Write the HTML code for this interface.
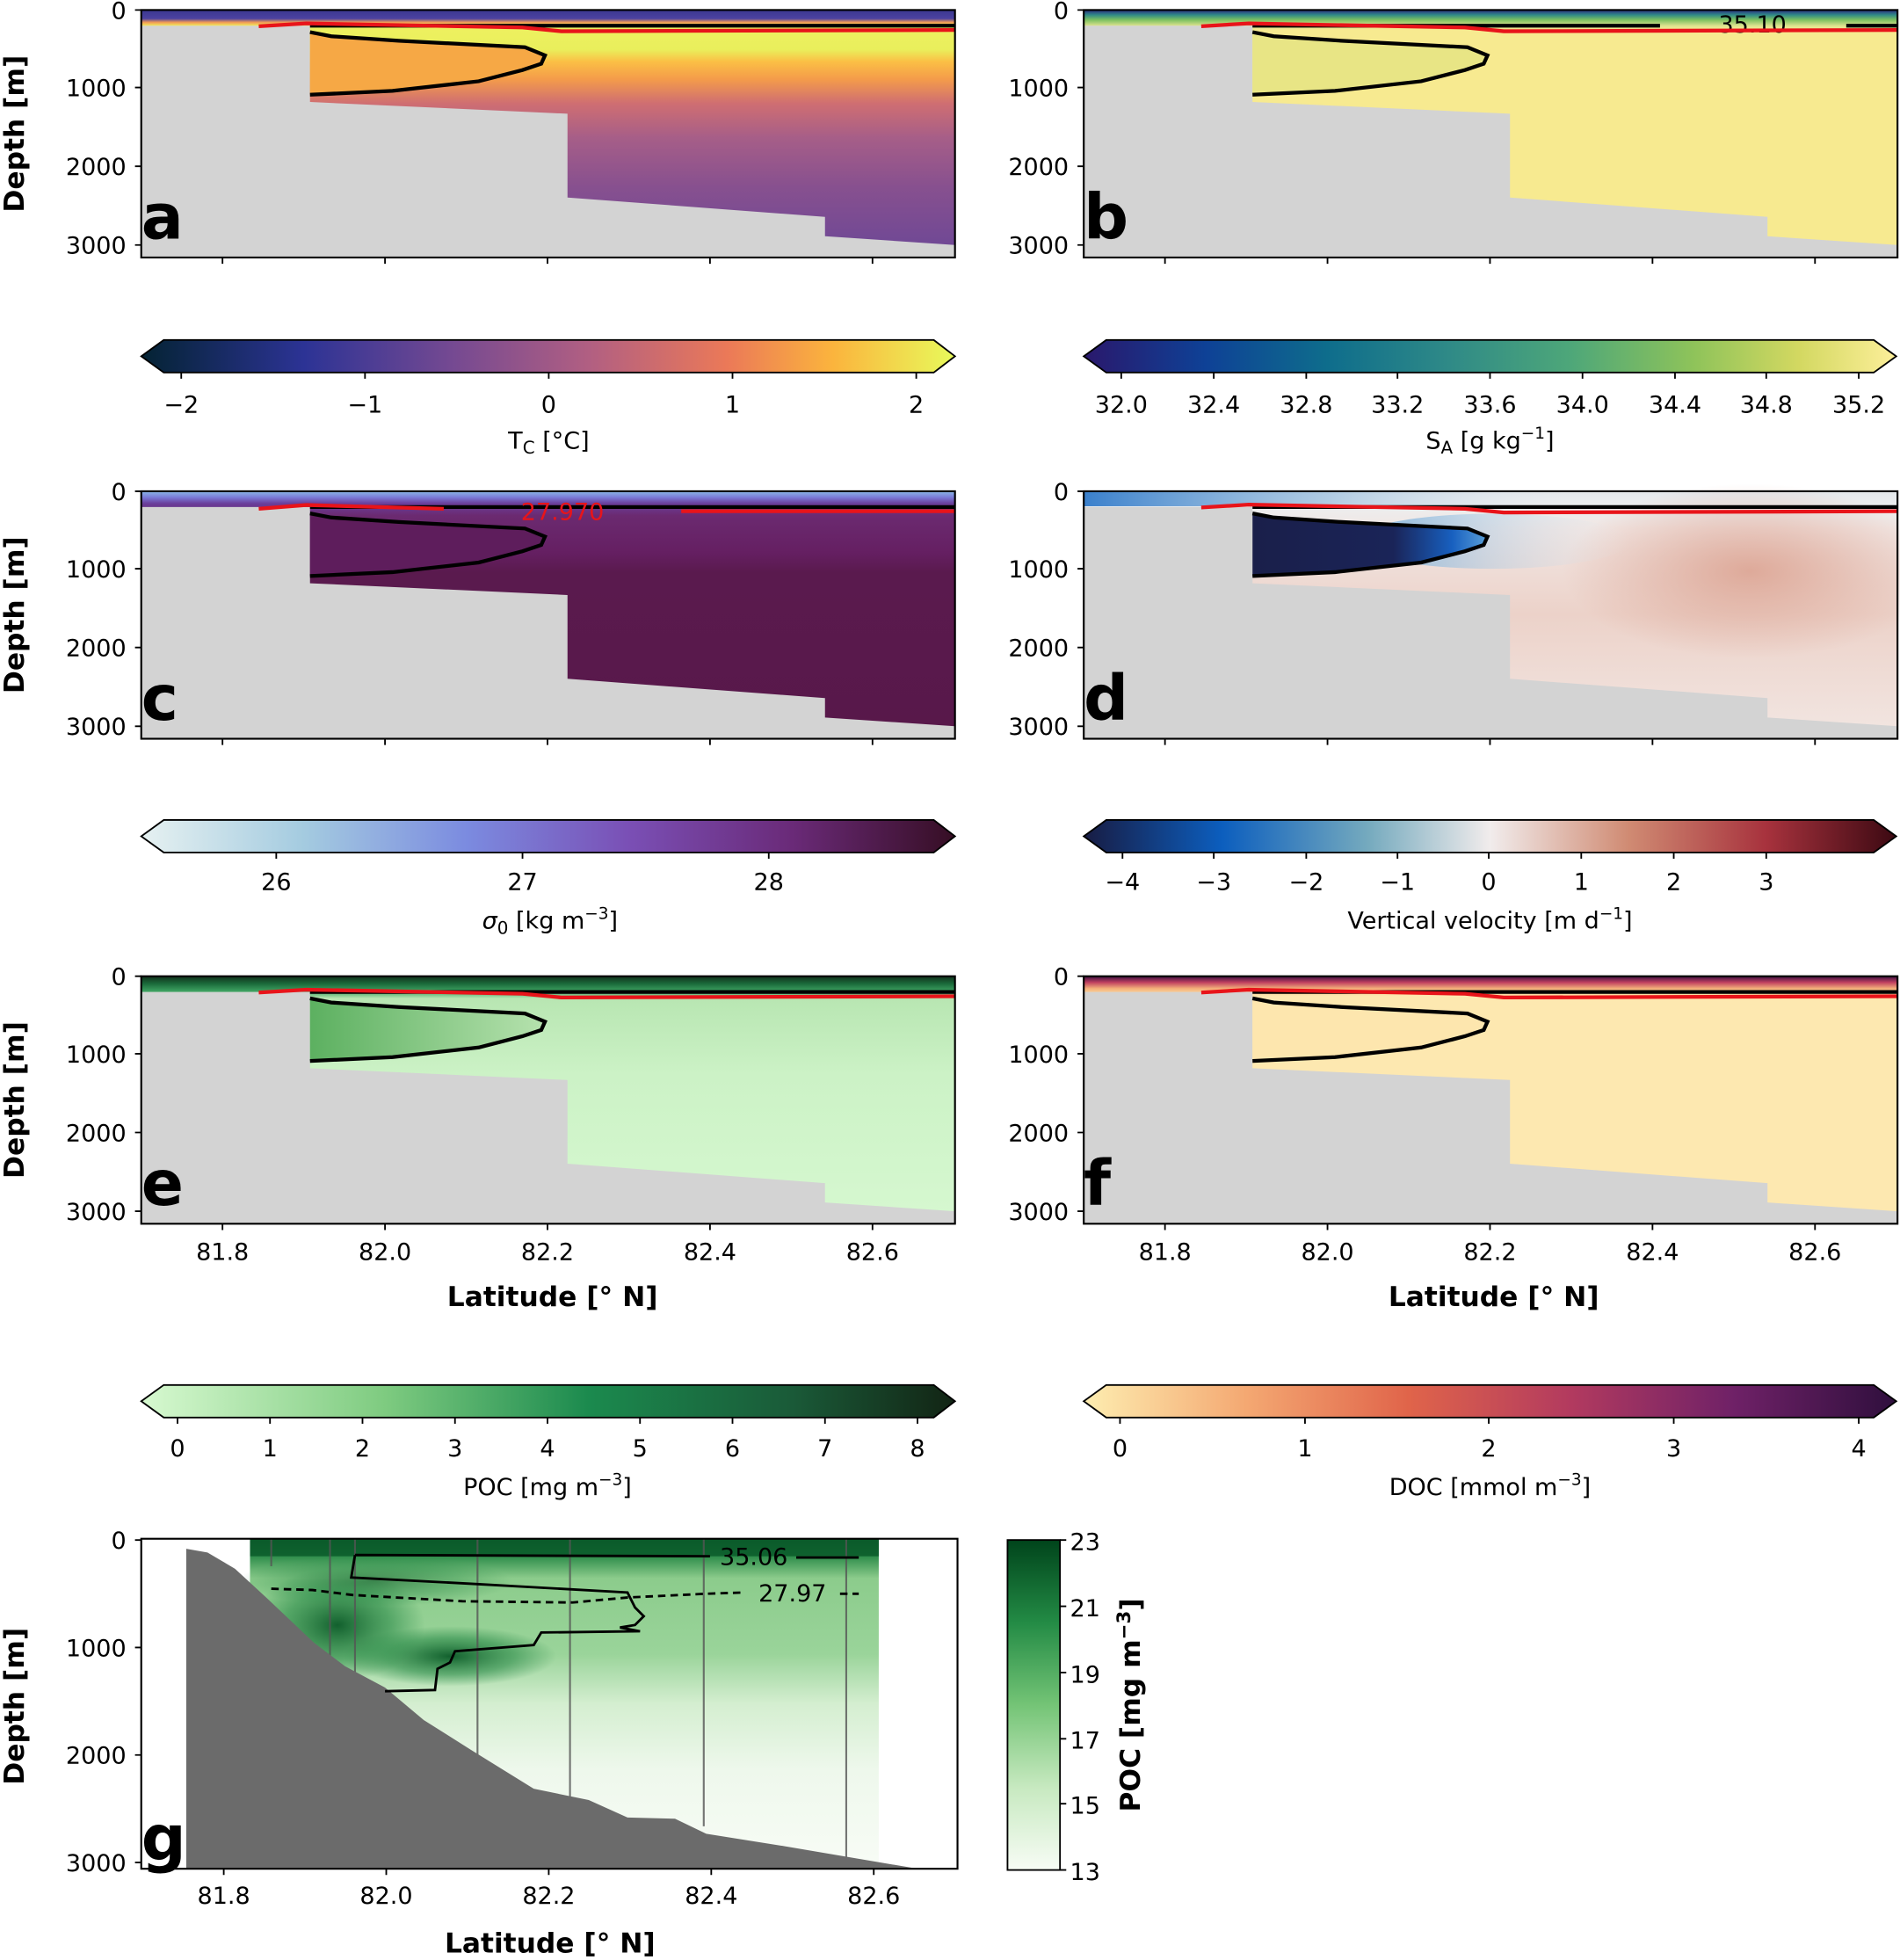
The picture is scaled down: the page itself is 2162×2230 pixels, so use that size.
<!DOCTYPE html>
<html><head><meta charset="utf-8"><style>
html,body{margin:0;padding:0;background:#fff;}
svg{display:block}
text{font-family:"DejaVu Sans","Liberation Sans",sans-serif;fill:#000}
.t{font-size:19px}
.b{font-weight:bold;font-size:22px}
.L{font-weight:bold;font-size:50px}
</style></head><body>
<svg width="2162" height="2230" viewBox="0 0 1520 1568" preserveAspectRatio="none" xmlns="http://www.w3.org/2000/svg">
<defs>
<linearGradient id="ga" gradientUnits="userSpaceOnUse" x1="0" y1="8" x2="0" y2="205">
<stop offset="0" stop-color="#3a3890"/><stop offset=".035" stop-color="#4c42a0"/><stop offset=".05" stop-color="#f29a55"/><stop offset=".065" stop-color="#eef060"/><stop offset=".16" stop-color="#e9ef5c"/><stop offset=".21" stop-color="#fbbf45"/><stop offset=".28" stop-color="#f49c4a"/><stop offset=".38" stop-color="#cf6e72"/><stop offset=".52" stop-color="#a65e88"/><stop offset=".72" stop-color="#87508f"/><stop offset="1" stop-color="#6c4796"/></linearGradient>
<linearGradient id="gb" gradientUnits="userSpaceOnUse" x1="0" y1="8" x2="0" y2="205">
<stop offset="0" stop-color="#2a2a80"/><stop offset=".02" stop-color="#2f8a87"/><stop offset=".04" stop-color="#7cc060"/><stop offset=".065" stop-color="#e0e490"/><stop offset=".08" stop-color="#f7ea90"/><stop offset="1" stop-color="#f7ea90"/></linearGradient>
<linearGradient id="gc" gradientUnits="userSpaceOnUse" x1="0" y1="8" x2="0" y2="205">
<stop offset="0" stop-color="#8ab8e6"/><stop offset=".025" stop-color="#7a7ad8"/><stop offset=".05" stop-color="#6a3e9a"/><stop offset=".1" stop-color="#6b2a70"/><stop offset=".25" stop-color="#651f62"/><stop offset=".33" stop-color="#5a1a4e"/><stop offset="1" stop-color="#58184a"/></linearGradient>
<linearGradient id="gd" gradientUnits="userSpaceOnUse" x1="0" y1="8" x2="0" y2="205">
<stop offset="0" stop-color="#e4e8ec"/><stop offset=".06" stop-color="#eceeef"/><stop offset=".15" stop-color="#f1e6e3"/><stop offset=".5" stop-color="#ecd2c9"/><stop offset="1" stop-color="#f2e6e2"/></linearGradient>
<linearGradient id="gdtop" x1="0" x2="1"><stop offset="0" stop-color="#3a80cc"/><stop offset=".3" stop-color="#8ab6dc" stop-opacity=".6"/><stop offset=".6" stop-color="#e8ecef" stop-opacity="0"/></linearGradient>
<radialGradient id="gd2"><stop offset="0" stop-color="#dca493" stop-opacity=".9"/><stop offset="1" stop-color="#dca493" stop-opacity="0"/></radialGradient>
<linearGradient id="gdt" x1="0" y1="0" x2="1" y2="0"><stop offset="0" stop-color="#1a1f4a"/><stop offset=".6" stop-color="#1a2458"/><stop offset=".85" stop-color="#1860c0"/><stop offset="1" stop-color="#5aa0d8"/></linearGradient>
<linearGradient id="gdhalo" x1="0" x2="1"><stop offset="0" stop-color="#5aa0d8" stop-opacity=".8"/><stop offset="1" stop-color="#e8eef2" stop-opacity="0"/></linearGradient>
<linearGradient id="ge" gradientUnits="userSpaceOnUse" x1="0" y1="8" x2="0" y2="205">
<stop offset="0" stop-color="#12301c"/><stop offset=".03" stop-color="#1a6a3a"/><stop offset=".06" stop-color="#3da060"/><stop offset=".09" stop-color="#b8e6b2"/><stop offset=".4" stop-color="#ccf2c6"/><stop offset="1" stop-color="#d6f8d0"/></linearGradient>
<linearGradient id="get" x1="0" y1="0" x2="1" y2="0"><stop offset="0" stop-color="#5cb060"/><stop offset="1" stop-color="#b6e2ae"/></linearGradient>
<linearGradient id="gf" gradientUnits="userSpaceOnUse" x1="0" y1="8" x2="0" y2="205">
<stop offset="0" stop-color="#3a1040"/><stop offset=".025" stop-color="#c04060"/><stop offset=".05" stop-color="#f4b07a"/><stop offset=".08" stop-color="#fde8b0"/><stop offset="1" stop-color="#fde8b0"/></linearGradient>
<linearGradient id="ca" x1="0" x2="1"><stop offset="0" stop-color="#042333"/><stop offset=".2" stop-color="#2c3395"/><stop offset=".38" stop-color="#744992"/><stop offset=".55" stop-color="#b15f82"/><stop offset=".72" stop-color="#eb7958"/><stop offset=".85" stop-color="#fbb43d"/><stop offset="1" stop-color="#e8fa5b"/></linearGradient>
<linearGradient id="cb" x1="0" x2="1"><stop offset="0" stop-color="#2a186c"/><stop offset=".15" stop-color="#0e4196"/><stop offset=".3" stop-color="#0e6d8c"/><stop offset=".45" stop-color="#2f8a87"/><stop offset=".6" stop-color="#4ea779"/><stop offset=".75" stop-color="#8ec35a"/><stop offset=".88" stop-color="#d3d861"/><stop offset="1" stop-color="#fdef9a"/></linearGradient>
<linearGradient id="cc" x1="0" x2="1"><stop offset="0" stop-color="#e6f1f1"/><stop offset=".2" stop-color="#a4cbe0"/><stop offset=".4" stop-color="#7b8be0"/><stop offset=".6" stop-color="#7a4fb5"/><stop offset=".8" stop-color="#6a2a78"/><stop offset="1" stop-color="#360e24"/></linearGradient>
<linearGradient id="cd" x1="0" x2="1"><stop offset="0" stop-color="#181c43"/><stop offset=".17" stop-color="#0c5ebe"/><stop offset=".35" stop-color="#75aabe"/><stop offset=".5" stop-color="#f1ecec"/><stop offset=".67" stop-color="#d08b73"/><stop offset=".84" stop-color="#a7323d"/><stop offset="1" stop-color="#3c0912"/></linearGradient>
<linearGradient id="ce" x1="0" x2="1"><stop offset="0" stop-color="#d7f9d0"/><stop offset=".3" stop-color="#7ecb80"/><stop offset=".55" stop-color="#1b8a4e"/><stop offset=".8" stop-color="#1a5a38"/><stop offset="1" stop-color="#122414"/></linearGradient>
<linearGradient id="cf" x1="0" x2="1"><stop offset="0" stop-color="#fdedb0"/><stop offset=".2" stop-color="#f4a872"/><stop offset=".4" stop-color="#e0644a"/><stop offset=".6" stop-color="#b23a5f"/><stop offset=".8" stop-color="#6f2167"/><stop offset="1" stop-color="#2f0f3d"/></linearGradient>
<linearGradient id="cg" x1="0" y1="0" x2="0" y2="1"><stop offset="0" stop-color="#00441b"/><stop offset=".25" stop-color="#238b45"/><stop offset=".5" stop-color="#74c476"/><stop offset=".75" stop-color="#c7e9c0"/><stop offset="1" stop-color="#f7fcf5"/></linearGradient>
<linearGradient id="gg" x1="0" y1="0" x2="0" y2="1"><stop offset="0" stop-color="#0a5a2a"/><stop offset=".05" stop-color="#2a8a48"/><stop offset=".12" stop-color="#8ccc8c"/><stop offset=".35" stop-color="#9ad49a"/><stop offset=".5" stop-color="#d4eed0"/><stop offset=".7" stop-color="#eef8ec"/><stop offset="1" stop-color="#f8fcf6"/></linearGradient>
<radialGradient id="gblob" cx=".5" cy=".5" r=".5"><stop offset="0" stop-color="#0b5a28" stop-opacity=".95"/><stop offset=".6" stop-color="#2a8a48" stop-opacity=".6"/><stop offset="1" stop-color="#2a8a48" stop-opacity="0"/></radialGradient>

<path id="body" d="M113,8 L764,8 L764,196 L660,189 L660,173.5 L454,158 L454,91 L248,81.6 L248,20.6 L113,20.6 Z"/>
<path id="tongue" d="M248,25.7 L265,29 L319,32.6 L420,37.8 L436,44.3 L433,51 L418,56 L383,65 L314,72.7 L248,75.8 Z"/>
<path id="tline" d="M248,25.7 L265,29 L319,32.6 L420,37.8 L436,44.3 L433,51 L418,56 L383,65 L314,72.7 L248,75.8" fill="none" stroke="#000" stroke-width="3"/>
<path id="red" d="M207,21 L245,18.7 L418,22 L449,25 L764,24" fill="none" stroke="#e8141a" stroke-width="3"/>
<g id="frame">
<rect x="113" y="8" width="651" height="198" fill="none" stroke="#000" stroke-width="1.5"/>
<path d="M113,8h-5M113,70h-5M113,133h-5M113,196h-5M178,206v5M308,206v5M438,206v5M568,206v5M698,206v5" stroke="#000" stroke-width="1.3"/>
</g>
</defs>

<!-- Panel a -->
<g>
<rect x="113" y="8" width="651" height="198" fill="#d3d3d3"/>
<use href="#body" fill="url(#ga)"/>
<use href="#tongue" fill="#f6a845"/>
<path d="M248,20.6 L764,20.6" stroke="#000" stroke-width="3"/>
<use href="#tline"/><use href="#red"/><use href="#frame"/>
<text x="113" y="191" class="L">a</text>
</g>
<!-- Panel b -->
<g transform="translate(754,0)">
<rect x="113" y="8" width="651" height="198" fill="#d3d3d3"/>
<use href="#body" fill="url(#gb)"/>
<use href="#tongue" fill="#e8e585"/>
<path d="M248,20.6 L574,20.6 M723,20.6 L764,20.6" stroke="#000" stroke-width="3"/>
<text x="648" y="26" class="t" text-anchor="middle">35.10</text>
<use href="#tline"/><use href="#red"/><use href="#frame"/>
<text x="113" y="191" class="L">b</text>
</g>
<!-- Panel c -->
<g transform="translate(0,385)">
<rect x="113" y="8" width="651" height="198" fill="#d3d3d3"/>
<use href="#body" fill="url(#gc)"/>
<use href="#tongue" fill="#5e1d5c"/>
<path d="M248,20.6 L764,20.6" stroke="#000" stroke-width="3"/>
<use href="#tline"/>
<path d="M207,22 L245,19 L355,22 M545,24 L764,24" fill="none" stroke="#e8141a" stroke-width="3"/>
<text x="450" y="31" class="t" style="fill:#e8141a" text-anchor="middle">27.970</text>
<use href="#frame"/>
<text x="113" y="191" class="L">c</text>
</g>
<!-- Panel d -->
<g transform="translate(754,385)">
<rect x="113" y="8" width="651" height="198" fill="#d3d3d3"/>
<use href="#body" fill="url(#gd)"/>
<rect x="113" y="8" width="651" height="12" fill="url(#gdtop)"/>
<ellipse cx="646" cy="72" rx="150" ry="70" fill="url(#gd2)"/>
<ellipse cx="440" cy="48" rx="110" ry="22" fill="url(#gdhalo)"/>
<use href="#tongue" fill="url(#gdt)"/>
<path d="M248,20.6 L764,20.6" stroke="#000" stroke-width="3"/>
<use href="#tline"/><use href="#red"/><use href="#frame"/>
<text x="113" y="191" class="L">d</text>
</g>
<!-- Panel e -->
<g transform="translate(0,773)">
<rect x="113" y="8" width="651" height="198" fill="#d3d3d3"/>
<use href="#body" fill="url(#ge)"/>
<use href="#tongue" fill="url(#get)"/>
<path d="M248,20.6 L764,20.6" stroke="#000" stroke-width="3"/>
<use href="#tline"/><use href="#red"/><use href="#frame"/>
<text x="113" y="191" class="L">e</text>
</g>
<!-- Panel f -->
<g transform="translate(754,773)">
<rect x="113" y="8" width="651" height="198" fill="#d3d3d3"/>
<use href="#body" fill="url(#gf)"/>
<use href="#tongue" fill="#fde6ae"/>
<path d="M248,20.6 L764,20.6" stroke="#000" stroke-width="3"/>
<use href="#tline"/><use href="#red"/><use href="#frame"/>
<text x="113" y="191" class="L">f</text>
</g>

<g text-anchor="end">
<text x="101" y="15" class="t">0</text><text x="101" y="77" class="t">1000</text><text x="101" y="140" class="t">2000</text><text x="101" y="203" class="t">3000</text>
<text x="101" y="400" class="t">0</text><text x="101" y="462" class="t">1000</text><text x="101" y="525" class="t">2000</text><text x="101" y="588" class="t">3000</text>
<text x="101" y="788" class="t">0</text><text x="101" y="850" class="t">1000</text><text x="101" y="913" class="t">2000</text><text x="101" y="976" class="t">3000</text>
<text x="855" y="15" class="t">0</text><text x="855" y="77" class="t">1000</text><text x="855" y="140" class="t">2000</text><text x="855" y="203" class="t">3000</text>
<text x="855" y="400" class="t">0</text><text x="855" y="462" class="t">1000</text><text x="855" y="525" class="t">2000</text><text x="855" y="588" class="t">3000</text>
<text x="855" y="788" class="t">0</text><text x="855" y="850" class="t">1000</text><text x="855" y="913" class="t">2000</text><text x="855" y="976" class="t">3000</text>
</g>
<text class="b" transform="translate(19,107) rotate(-90)" text-anchor="middle">Depth [m]</text>
<text class="b" transform="translate(19,492) rotate(-90)" text-anchor="middle">Depth [m]</text>
<text class="b" transform="translate(19,880) rotate(-90)" text-anchor="middle">Depth [m]</text>
<text class="b" transform="translate(19,1365) rotate(-90)" text-anchor="middle">Depth [m]</text>

<g text-anchor="middle">
<text x="178" y="1008" class="t">81.8</text><text x="308" y="1008" class="t">82.0</text><text x="438" y="1008" class="t">82.2</text><text x="568" y="1008" class="t">82.4</text><text x="698" y="1008" class="t">82.6</text>
<text x="932" y="1008" class="t">81.8</text><text x="1062" y="1008" class="t">82.0</text><text x="1192" y="1008" class="t">82.2</text><text x="1322" y="1008" class="t">82.4</text><text x="1452" y="1008" class="t">82.6</text>
<text x="442" y="1045" class="b">Latitude [° N]</text><text x="1195" y="1045" class="b">Latitude [° N]</text>
</g>

<g stroke="#000" stroke-width="1.3">
<polygon points="113,285 131,272 747,272 764,285 747,298 131,298" fill="url(#ca)"/>
<polygon points="867,285 885,272 1499,272 1517,285 1499,298 885,298" fill="url(#cb)"/>
<polygon points="113,669 131,656 747,656 764,669 747,682 131,682" fill="url(#cc)"/>
<polygon points="867,669 885,656 1499,656 1517,669 1499,682 885,682" fill="url(#cd)"/>
<polygon points="113,1121 131,1108 747,1108 764,1121 747,1134 131,1134" fill="url(#ce)"/>
<polygon points="867,1121 885,1108 1499,1108 1517,1121 1499,1134 885,1134" fill="url(#cf)"/>
<path d="M145,298v5M292,298v5M439,298v5M586,298v5M733,298v5
M897,298v5M971,298v5M1045,298v5M1118,298v5M1192,298v5M1266,298v5M1340,298v5M1413,298v5M1487,298v5
M221,682v5M418,682v5M615,682v5
M898,682v5M971,682v5M1045,682v5M1118,682v5M1191,682v5M1265,682v5M1339,682v5M1413,682v5
M142,1134v5M216,1134v5M290,1134v5M364,1134v5M438,1134v5M512,1134v5M586,1134v5M660,1134v5M734,1134v5
M896,1134v5M1044,1134v5M1191,1134v5M1339,1134v5M1487,1134v5"/>
</g>
<g text-anchor="middle">
<text x="145" y="330" class="t">−2</text><text x="292" y="330" class="t">−1</text><text x="439" y="330" class="t">0</text><text x="586" y="330" class="t">1</text><text x="733" y="330" class="t">2</text>
<text x="439" y="359" class="t">T<tspan font-size="14" dy="4">C</tspan><tspan dy="-4"> [°C]</tspan></text>
<text x="897" y="330" class="t">32.0</text><text x="971" y="330" class="t">32.4</text><text x="1045" y="330" class="t">32.8</text><text x="1118" y="330" class="t">33.2</text><text x="1192" y="330" class="t">33.6</text><text x="1266" y="330" class="t">34.0</text><text x="1340" y="330" class="t">34.4</text><text x="1413" y="330" class="t">34.8</text><text x="1487" y="330" class="t">35.2</text>
<text x="1192" y="359" class="t">S<tspan font-size="14" dy="4">A</tspan><tspan dy="-4"> [g kg</tspan><tspan font-size="13" dy="-8">−1</tspan><tspan dy="8">]</tspan></text>
<text x="221" y="712" class="t">26</text><text x="418" y="712" class="t">27</text><text x="615" y="712" class="t">28</text>
<text x="440" y="743" class="t"><tspan font-style="italic">σ</tspan><tspan font-size="14" dy="4">0</tspan><tspan dy="-4"> [kg m</tspan><tspan font-size="13" dy="-8">−3</tspan><tspan dy="8">]</tspan></text>
<text x="898" y="712" class="t">−4</text><text x="971" y="712" class="t">−3</text><text x="1045" y="712" class="t">−2</text><text x="1118" y="712" class="t">−1</text><text x="1191" y="712" class="t">0</text><text x="1265" y="712" class="t">1</text><text x="1339" y="712" class="t">2</text><text x="1413" y="712" class="t">3</text>
<text x="1192" y="743" class="t">Vertical velocity [m d<tspan font-size="13" dy="-8">−1</tspan><tspan dy="8">]</tspan></text>
<text x="142" y="1165" class="t">0</text><text x="216" y="1165" class="t">1</text><text x="290" y="1165" class="t">2</text><text x="364" y="1165" class="t">3</text><text x="438" y="1165" class="t">4</text><text x="512" y="1165" class="t">5</text><text x="586" y="1165" class="t">6</text><text x="660" y="1165" class="t">7</text><text x="734" y="1165" class="t">8</text>
<text x="438" y="1196" class="t">POC [mg m<tspan font-size="13" dy="-8">−3</tspan><tspan dy="8">]</tspan></text>
<text x="896" y="1165" class="t">0</text><text x="1044" y="1165" class="t">1</text><text x="1191" y="1165" class="t">2</text><text x="1339" y="1165" class="t">3</text><text x="1487" y="1165" class="t">4</text>
<text x="1192" y="1196" class="t">DOC [mmol m<tspan font-size="13" dy="-8">−3</tspan><tspan dy="8">]</tspan></text>
</g>

<!-- Panel g -->
<g>
<rect x="200" y="1231" width="503" height="264" fill="url(#gg)"/>
<ellipse cx="360" cy="1325" rx="85" ry="24" fill="url(#gblob)"/>
<ellipse cx="270" cy="1300" rx="70" ry="45" fill="url(#gblob)"/>
<ellipse cx="300" cy="1265" rx="110" ry="20" fill="url(#gblob)" opacity=".6"/>
<rect x="200" y="1231" width="503" height="14" fill="#0b5a2a" opacity=".85"/>
<path d="M217,1231v22M264,1231v110M284,1231v120M382,1231v180M456,1231v220M563,1231v230M677,1231v255" stroke="#555" stroke-width="1.5" opacity=".8"/>
<path d="M149,1495 L149,1239 L166,1242 L188,1255 L213,1278 L251,1314 L276,1333 L308,1350 L339,1376 L377,1400 L427,1431 L471,1440 L502,1454 L540,1455 L565,1467 L628,1477 L734,1495 Z" fill="#6b6b6b"/>
<path d="M284,1244 L568,1245 M637,1246 L687,1246 M284,1244 L281,1262 L377,1267 L502,1274 L508,1286 L515,1293 L508,1300 L496,1302 L512,1305 L433,1306 L427,1316 L364,1321 L360,1330 L350,1335 L348,1352 L308,1353" fill="none" stroke="#000" stroke-width="2"/>
<path d="M217,1271 L250,1272 L282,1276 L370,1281 L458,1282 L502,1278 L565,1275 L595,1274 M672,1275 L687,1275" fill="none" stroke="#000" stroke-width="2" stroke-dasharray="6,4"/>
<text x="603" y="1252" class="t" text-anchor="middle" font-size="17">35.06</text>
<text x="634" y="1281" class="t" text-anchor="middle" font-size="17">27.97</text>
<rect x="113" y="1231" width="653" height="264" fill="none" stroke="#000" stroke-width="1.5"/>
<path d="M113,1232h-5M113,1318h-5M113,1404h-5M113,1490h-5M179,1495v5M309,1495v5M439,1495v5M569,1495v5M699,1495v5" stroke="#000" stroke-width="1.3"/>
<text x="113" y="1488" class="L">g</text>
<g text-anchor="end">
<text x="101" y="1239" class="t">0</text><text x="101" y="1325" class="t">1000</text><text x="101" y="1411" class="t">2000</text><text x="101" y="1497" class="t">3000</text>
</g>
<g text-anchor="middle">
<text x="179" y="1523" class="t">81.8</text><text x="309" y="1523" class="t">82.0</text><text x="439" y="1523" class="t">82.2</text><text x="569" y="1523" class="t">82.4</text><text x="699" y="1523" class="t">82.6</text>
<text x="440" y="1562" class="b">Latitude [° N]</text>
</g>
<rect x="806" y="1232" width="42" height="264" fill="url(#cg)" stroke="#000" stroke-width="1.3"/>
<path d="M848,1232h5M848,1285h5M848,1338h5M848,1391h5M848,1443h5M848,1496h5" stroke="#000" stroke-width="1.3"/>
<text x="856" y="1240" class="t" font-size="22">23</text><text x="856" y="1293" class="t" font-size="22">21</text><text x="856" y="1346" class="t" font-size="22">19</text><text x="856" y="1399" class="t" font-size="22">17</text><text x="856" y="1451" class="t" font-size="22">15</text><text x="856" y="1504" class="t" font-size="22">13</text>
<text class="b" transform="translate(912,1364) rotate(-90)" text-anchor="middle">POC [mg m<tspan font-size="15" dy="-8">−3</tspan><tspan dy="8">]</tspan></text>
</g>
</svg>
</body></html>
